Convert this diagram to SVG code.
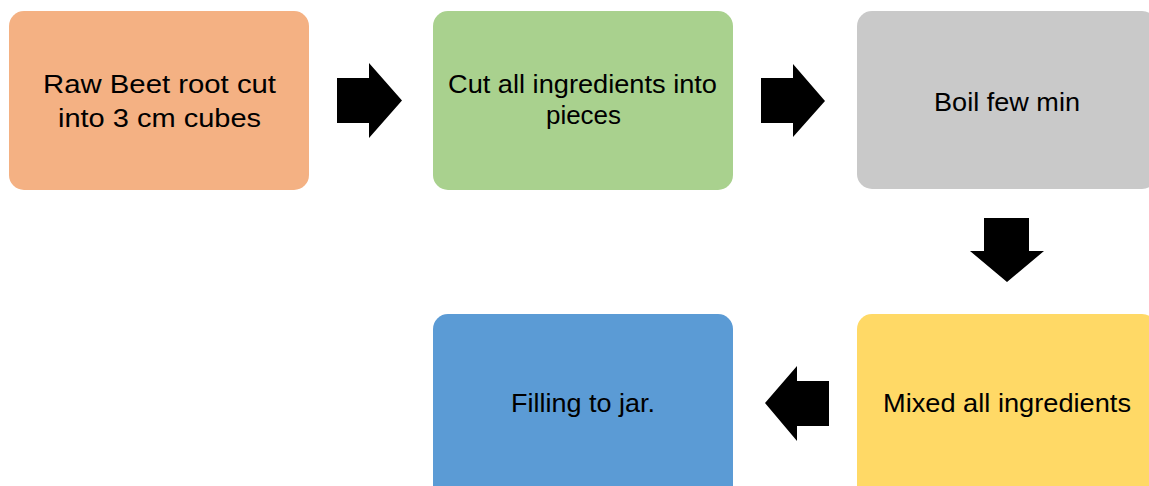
<svg xmlns="http://www.w3.org/2000/svg" width="1149" height="486" viewBox="0 0 1149 486">
<style>
.box{stroke:none}
.lbl{font-family:"Liberation Sans",Arial,sans-serif;font-size:25px;fill:#000;text-anchor:middle}
.big{font-size:26px}
.arrow{fill:#000}
</style>
<rect width="1149" height="486" fill="#fff"/>
<g id="node1">
<rect class="box" x="9" y="11" width="300" height="179" rx="15" fill="#F4B183"/>
<text class="lbl big" x="159.5" y="93" textLength="233" lengthAdjust="spacingAndGlyphs">Raw Beet root cut</text>
<text class="lbl big" x="159.5" y="127" textLength="203" lengthAdjust="spacingAndGlyphs">into 3 cm cubes</text>
</g>
<g id="node2">
<rect class="box" x="433" y="11" width="300" height="179" rx="15" fill="#A9D18E"/>
<text class="lbl" x="582.5" y="93" textLength="269" lengthAdjust="spacingAndGlyphs">Cut all ingredients into</text>
<text class="lbl" x="583.5" y="124" textLength="75" lengthAdjust="spacingAndGlyphs">pieces</text>
</g>
<g id="node3">
<rect class="box" x="857" y="11" width="300" height="178" rx="15" fill="#C9C9C9"/>
<text class="lbl" x="1007" y="111" textLength="146" lengthAdjust="spacingAndGlyphs">Boil few min</text>
</g>
<g id="node4">
<rect class="box" x="857" y="314" width="300" height="190" rx="15" fill="#FFD966"/>
<text class="lbl" x="1007" y="412" textLength="248" lengthAdjust="spacingAndGlyphs">Mixed all ingredients</text>
</g>
<g id="node5">
<rect class="box" x="433" y="314" width="300" height="190" rx="15" fill="#5B9BD5"/>
<text class="lbl" x="583" y="412" textLength="144" lengthAdjust="spacingAndGlyphs">Filling to jar.</text>
</g>
<g id="connectors">
<polygon class="arrow" points="337,78 369,78 369,63 402,100.5 369,138 369,123 337,123"/>
<polygon class="arrow" points="761,78 793,78 793,64 825,101 793,137 793,123 761,123"/>
<polygon class="arrow" points="984,218 1029,218 1029,251 1044,251 1007,282 970,251 984,251"/>
<polygon class="arrow" points="829,381 797,381 797,366 765,403 797,441 797,426 829,426"/>
</g>
</svg>
